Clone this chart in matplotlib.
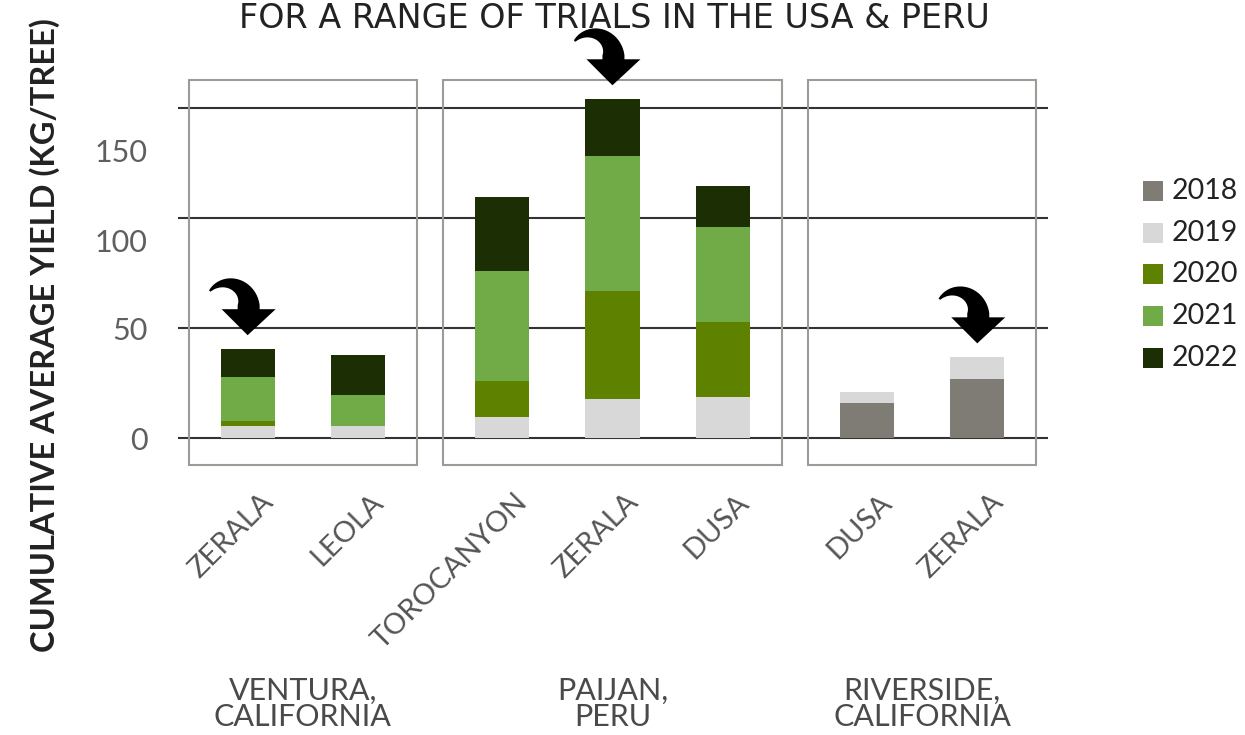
import matplotlib
matplotlib.use("Agg")
import matplotlib.pyplot as plt
import matplotlib.transforms as mtransforms
from matplotlib.patches import Rectangle, PathPatch
from matplotlib.path import Path
import numpy as np

plt.rcParams['font.family'] = ['Lato', 'DejaVu Sans']

regions = ["VENTURA,\nCALIFORNIA", "PAIJAN,\nPERU", "RIVERSIDE,\nCALIFORNIA"]
varieties = [["ZERALA", "LEOLA"], ["TOROCANYON", "ZERALA", "DUSA"], ["DUSA", "ZERALA"]]
years = ["2018", "2019", "2020", "2021", "2022"]
colors = ["#7f7b75", "#d8d8d8", "#5e8200", "#70ab48", "#1b2e04"]

# yield added in each season (kg/tree), bars in left-to-right order
y2018 = [0, 0, 0, 0, 0, 15.9, 26.8]
y2019 = [5.7, 5.7, 9.5, 17.7, 18.6, 5.3, 10.0]
y2020 = [2.2, 0, 16.4, 49.1, 34.4, 0, 0]
y2021 = [19.8, 13.8, 50.0, 61.7, 42.9, 0, 0]
y2022 = [12.8, 18.2, 33.6, 25.6, 18.9, 0, 0]
series = [y2018, y2019, y2020, y2021, y2022]

highlight = [0, 3, 6]  # the ZERALA bars get an arrow

ytick_vals = [0, 50, 100, 150]
ytick_pos = [0, 50, 90, 131]  # in the original the labels sit below their gridlines

# bar positions, small gap between regions
pos = []
groups = []
for g, names in enumerate(varieties):
    idx = []
    for name in names:
        idx.append(len(pos))
        pos.append(len(pos) + 0.3 * g)
    groups.append(idx)
pos = np.array(pos)
labels = [n for names in varieties for n in names]

fig = plt.figure(figsize=(12.45, 7.35), dpi=100)
ax = fig.add_axes([178 / 1245, (735 - 469.1) / 735, 870 / 1245, 404.8 / 735])
ax.set_xlim(-0.63, 7.24)
ax.set_ylim(-14, 170)
for s in ax.spines.values():
    s.set_visible(False)
ax.set_xticks([])

for v in ytick_vals:
    ax.axhline(v, color="#333333", lw=1.5, zorder=1)

pad = 0.53
for idx in groups:
    x0 = pos[idx[0]] - pad
    x1 = pos[idx[-1]] + pad
    ax.add_patch(Rectangle((x0, -12.3), x1 - x0, 175, fill=False,
                           ec="#9e9b96", lw=1.5, zorder=1.5))

bottom = np.zeros(len(pos))
for vals, col in zip(series, colors):
    ax.bar(pos, vals, 0.49, bottom=bottom, color=col, zorder=2)
    bottom += np.array(vals)

ax.set_yticks(ytick_pos, [str(v) for v in ytick_vals])
ax.tick_params(axis='y', length=0, pad=22, labelsize=22, labelcolor="#5f5f5f")


def curved_arrow(x, y):
    t = np.linspace(0, 1, 40)
    ang = np.radians(140 - 140 * t)
    cx, cy, r = -21, 30, 22
    hw = 1 + 10 * t
    outer = np.column_stack([cx + (r + hw) * np.cos(ang), cy + (r + hw) * np.sin(ang)])
    inner = np.column_stack([cx + (r - hw) * np.cos(ang), cy + (r - hw) * np.sin(ang)])
    head = np.array([[12, 26], [28, 26], [0, 0], [-26, 26], [-10, 26]])
    pts = np.vstack([outer, head, inner[::-1], outer[:1]])
    codes = [Path.MOVETO] + [Path.LINETO] * (len(pts) - 2) + [Path.CLOSEPOLY]
    tr = mtransforms.Affine2D().translate(0, 14) + mtransforms.ScaledTranslation(x, y, ax.transData)
    ax.add_patch(PathPatch(Path(pts, codes), fc="black", ec="none",
                           transform=tr, clip_on=False, zorder=3))


for i in highlight:
    curved_arrow(pos[i], bottom[i])

for x, name in zip(pos, labels):
    ax.text(x + 0.11, -23.0, name, rotation=45, rotation_mode='anchor',
            ha='right', va='top', fontsize=21, color="#555555")

for idx, reg in zip(groups, regions):
    ax.text(pos[idx].mean(), -120.8, reg, ha='center', va='center',
            multialignment='center', fontsize=22, color="#4a4a4a",
            linespacing=0.95)

fig.text(45 / 1245, 1 - 335 / 735, "CUMULATIVE AVERAGE YIELD (KG/TREE)",
         rotation=90, ha='center', va='center', fontsize=23.5, fontweight='bold',
         color="#222222")

fig.text(614 / 1245, 1 - 28 / 735, "FOR A RANGE OF TRIALS IN THE USA & PERU",
         ha='center', va='baseline', fontsize=24,
         family='DejaVu Sans', color="#222222")

for i, (yr, col) in enumerate(zip(years, colors)):
    yc = 191 + 41.7 * i
    fig.add_artist(Rectangle((1143 / 1245, 1 - (yc + 10) / 735), 20 / 1245, 20 / 735,
                             transform=fig.transFigure, fc=col, ec="none"))
    fig.text(1172 / 1245, 1 - yc / 735, yr, ha='left', va='center',
             fontsize=20.5, color="#222222")

fig.savefig("out.png", dpi=100)
